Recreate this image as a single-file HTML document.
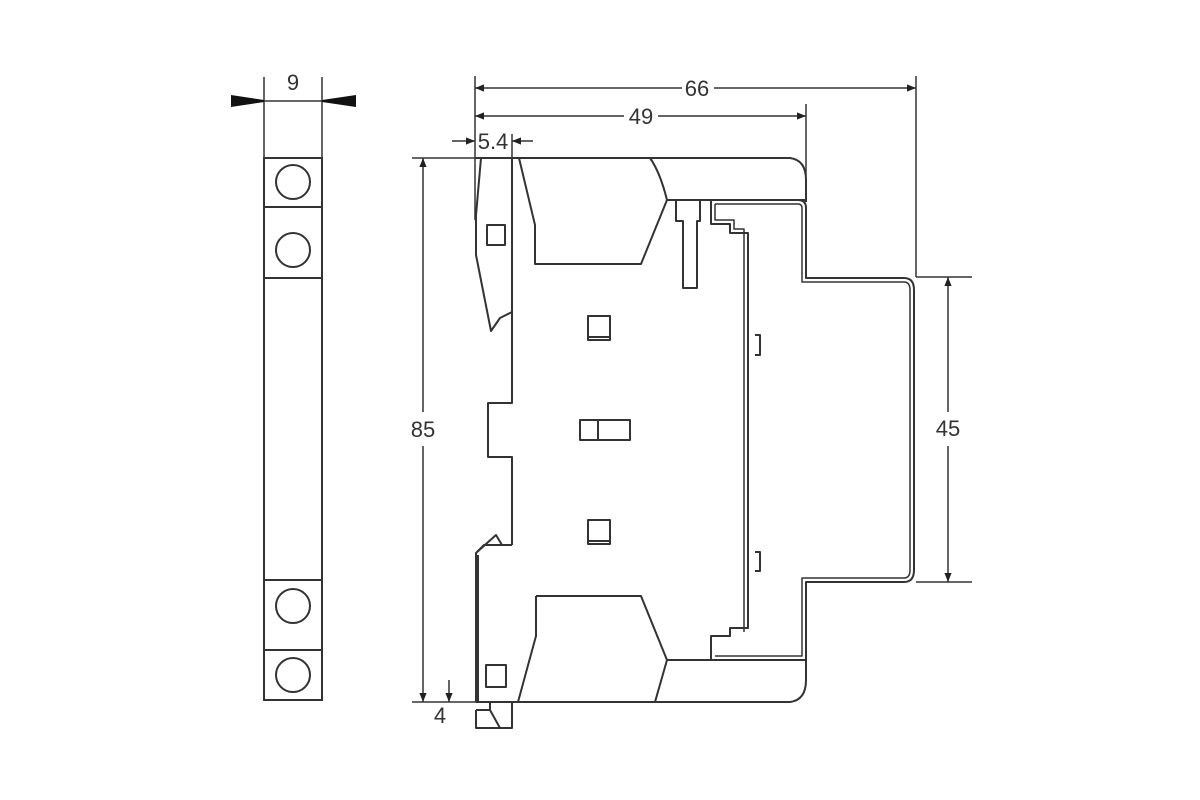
<!DOCTYPE html>
<html><head><meta charset="utf-8"><style>
html,body{margin:0;padding:0;background:#fff;}
svg{display:block;}
text{font-family:"Liberation Sans",sans-serif;font-size:22px;fill:#333;}
</style></head><body>
<svg width="1200" height="800" viewBox="0 0 1200 800" xmlns="http://www.w3.org/2000/svg">
<defs>
<marker id="a" viewBox="0 0 10 10" refX="10" refY="5" markerWidth="8" markerHeight="6" orient="auto-start-reverse"><path d="M0,1 L10,5 L0,9 z" fill="#222"/></marker>
</defs>
<g fill="none" stroke="#333" stroke-width="2">
<!-- side view -->
<rect x="264" y="158" width="58" height="542"/>
<line x1="264" y1="207" x2="322" y2="207"/>
<line x1="264" y1="278" x2="322" y2="278"/>
<line x1="264" y1="580" x2="322" y2="580"/>
<line x1="264" y1="650" x2="322" y2="650"/>
<circle cx="293" cy="182" r="17"/>
<circle cx="293" cy="250" r="17"/>
<circle cx="293" cy="606" r="17"/>
<circle cx="293" cy="675" r="17"/>
<!-- 9 dim -->
<line x1="264" y1="77" x2="264" y2="158" stroke-width="1.5"/>
<line x1="322" y1="77" x2="322" y2="158" stroke-width="1.5"/>
<line x1="264" y1="101" x2="322" y2="101" stroke-width="1.5"/>
</g>
<path d="M231,95 L264,100 L264,102 L231,107 z" fill="#111"/>
<path d="M356,95 L322,100 L322,102 L356,107 z" fill="#111"/>
<text x="293" y="90" text-anchor="middle">9</text>

<g fill="none" stroke="#333" stroke-width="1.5">
<!-- dims -->
<line x1="475" y1="76" x2="475" y2="220"/>
<line x1="916" y1="76" x2="916" y2="277"/>
<line x1="806" y1="104" x2="806" y2="175"/>
<line x1="475" y1="88" x2="682" y2="88" marker-start="url(#a)"/>
<line x1="714" y1="88" x2="916" y2="88" marker-end="url(#a)"/>
<line x1="475" y1="116" x2="624" y2="116" marker-start="url(#a)"/>
<line x1="658" y1="116" x2="806" y2="116" marker-end="url(#a)"/>
<line x1="452" y1="141" x2="475" y2="141" marker-end="url(#a)"/>
<line x1="533" y1="141" x2="512" y2="141" marker-end="url(#a)"/>
<line x1="512" y1="134" x2="512" y2="158"/>
<line x1="412" y1="158" x2="476" y2="158"/>
<line x1="412" y1="702" x2="476" y2="702"/>
<line x1="423" y1="158" x2="423" y2="412" marker-start="url(#a)"/>
<line x1="423" y1="446" x2="423" y2="702" marker-end="url(#a)"/>
<line x1="449" y1="680" x2="449" y2="702" marker-end="url(#a)"/>
<line x1="916" y1="277" x2="972" y2="277"/>
<line x1="916" y1="582" x2="972" y2="582"/>
<line x1="948" y1="277" x2="948" y2="412" marker-start="url(#a)"/>
<line x1="948" y1="446" x2="948" y2="582" marker-end="url(#a)"/>
</g>
<text x="697" y="96" text-anchor="middle">66</text>
<text x="641" y="124" text-anchor="middle">49</text>
<text x="493" y="149" text-anchor="middle">5.4</text>
<text x="423" y="437" text-anchor="middle">85</text>
<text x="440" y="723" text-anchor="middle">4</text>
<text x="948" y="436" text-anchor="middle">45</text>

<g fill="none" stroke="#333" stroke-width="2" stroke-linejoin="round">
<!-- body outer -->
<path d="M476,158 L790,158 Q806,160 806,180 L806,202"/>
<path d="M476,702 L790,702 Q806,700 806,680 L806,657"/>
<!-- top shapes -->
<path d="M519,158 L535,225 L535,264 L641,264 L667,200 Q660,172 650,158"/>
<line x1="667" y1="200" x2="806" y2="200"/>
<path d="M676,200 L676,221 L683,221 L683,288 L697,288 L697,221 L700,221 L700,200"/>
<path d="M536,596 L641,596 L667,660 L655,702"/>
<path d="M536,596 L536,636 L518,702"/>
<line x1="667" y1="660" x2="712" y2="660"/>
<!-- left clip -->
<path d="M481,158 L476,215 L476,255 L491,331 L500,318 L512,312"/>
<path d="M512,158 L512,403 L488,403 L488,457 L512,457 L512,545"/>
<path d="M476,702 L476,553 L484,545 L512,545 M476,553 L496,535 L502,545"/>
<path d="M478,702 L478,555"/>
<rect x="487" y="225" width="18" height="20"/>
<rect x="486" y="665" width="20" height="22"/>
<path d="M476,710 L490,710 L490,702 M476,710 L476,728 L512,728 L512,702 M490,710 L500,728"/>
<!-- contacts -->
<rect x="588" y="316" width="22" height="24"/>
<line x1="588" y1="337" x2="610" y2="337"/>
<rect x="580" y="420" width="18" height="20"/>
<rect x="598" y="420" width="32" height="20"/>
<rect x="588" y="520" width="22" height="24"/>
<line x1="588" y1="541" x2="610" y2="541"/>
<path d="M755,335 L760,335 L760,355 L755,355"/>
<path d="M755,552 L760,552 L760,571 L755,571"/>
<!-- rail -->
<path d="M711,200 L711,224 L730,224 L730,233 L748,233 L748,628 L730,628 L730,636 L711,636 L711,660 L806,660 L806,582 L904,582 Q914,582 914,570 L914,290 Q914,278 904,278 L806,278 L806,208 Q806,200 798,200"/>
<path d="M715,204 L715,220 L734,220 L734,229 L744,229 L744,632" stroke-width="1.5"/>
<path d="M715,656 L802,656 L802,578 L904,578 Q910,578 910,570 L910,290 Q910,282 904,282 L802,282 L802,208 Q802,204 798,204 L715,204" stroke-width="1.5"/>
</g>
</svg>
</body></html>
